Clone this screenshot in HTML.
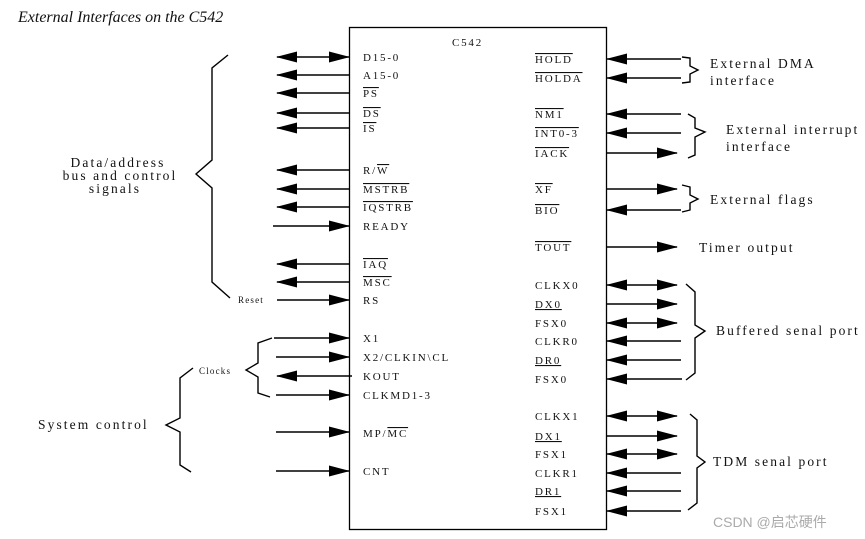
<!DOCTYPE html>
<html><head><meta charset="utf-8"><style>
html,body{margin:0;padding:0;background:#fff;}
svg{display:block;}
text{font-family:"Liberation Serif",serif;fill:#111;}
.p{font-size:11px;letter-spacing:1.8px;}
.l{font-size:13.5px;letter-spacing:2.1px;}
.o{text-decoration:overline;}
.u{text-decoration:underline;}
</style></head><body>
<svg width="865" height="539" viewBox="0 0 865 539" xmlns="http://www.w3.org/2000/svg">
<defs>
<marker id="a" markerUnits="userSpaceOnUse" markerWidth="22" markerHeight="12" refX="20" refY="5.5" orient="auto-start-reverse"><path d="M0,0 L21,5.5 L0,11 z" fill="#000"/></marker>
</defs>
<rect width="865" height="539" fill="#fff"/>
<text x="18" y="22" style="font-size:16px;font-style:italic">External Interfaces on the C542</text>
<rect x="349.5" y="27.5" width="257" height="502" fill="none" stroke="#000" stroke-width="1.3"/>
<text x="452" y="46" class="p">C542</text>
<g stroke="#000" stroke-width="1.4" fill="none">
<line x1="277" y1="57" x2="349" y2="57" marker-start="url(#a)" marker-end="url(#a)"/>
<line x1="349" y1="75" x2="277" y2="75" marker-end="url(#a)"/>
<line x1="349" y1="93" x2="277" y2="93" marker-end="url(#a)"/>
<line x1="349" y1="113" x2="277" y2="113" marker-end="url(#a)"/>
<line x1="349" y1="128" x2="277" y2="128" marker-end="url(#a)"/>
<line x1="349" y1="170" x2="277" y2="170" marker-end="url(#a)"/>
<line x1="349" y1="189" x2="277" y2="189" marker-end="url(#a)"/>
<line x1="349" y1="207" x2="277" y2="207" marker-end="url(#a)"/>
<line x1="273" y1="226" x2="349" y2="226" marker-end="url(#a)"/>
<line x1="349" y1="264" x2="277" y2="264" marker-end="url(#a)"/>
<line x1="349" y1="282" x2="277" y2="282" marker-end="url(#a)"/>
<line x1="277" y1="300" x2="349" y2="300" marker-end="url(#a)"/>
<line x1="274" y1="338" x2="349" y2="338" marker-end="url(#a)"/>
<line x1="276" y1="357" x2="349" y2="357" marker-end="url(#a)"/>
<line x1="352" y1="376" x2="277" y2="376" marker-end="url(#a)"/>
<line x1="276" y1="395" x2="349" y2="395" marker-end="url(#a)"/>
<line x1="276" y1="432" x2="349" y2="432" marker-end="url(#a)"/>
<line x1="276" y1="471" x2="349" y2="471" marker-end="url(#a)"/>
<line x1="681" y1="59" x2="607" y2="59" marker-end="url(#a)"/>
<line x1="681" y1="78" x2="607" y2="78" marker-end="url(#a)"/>
<line x1="681" y1="114" x2="607" y2="114" marker-end="url(#a)"/>
<line x1="681" y1="133" x2="607" y2="133" marker-end="url(#a)"/>
<line x1="606" y1="153" x2="677" y2="153" marker-end="url(#a)"/>
<line x1="606" y1="189" x2="677" y2="189" marker-end="url(#a)"/>
<line x1="681" y1="210" x2="607" y2="210" marker-end="url(#a)"/>
<line x1="606" y1="247" x2="677" y2="247" marker-end="url(#a)"/>
<line x1="607" y1="285" x2="677" y2="285" marker-start="url(#a)" marker-end="url(#a)"/>
<line x1="606" y1="304" x2="677" y2="304" marker-end="url(#a)"/>
<line x1="607" y1="323" x2="677" y2="323" marker-start="url(#a)" marker-end="url(#a)"/>
<line x1="681" y1="341" x2="607" y2="341" marker-end="url(#a)"/>
<line x1="681" y1="360" x2="607" y2="360" marker-end="url(#a)"/>
<line x1="682" y1="379" x2="607" y2="379" marker-end="url(#a)"/>
<line x1="607" y1="416" x2="677" y2="416" marker-start="url(#a)" marker-end="url(#a)"/>
<line x1="606" y1="436" x2="677" y2="436" marker-end="url(#a)"/>
<line x1="607" y1="454" x2="677" y2="454" marker-start="url(#a)" marker-end="url(#a)"/>
<line x1="681" y1="473" x2="607" y2="473" marker-end="url(#a)"/>
<line x1="681" y1="491" x2="607" y2="491" marker-end="url(#a)"/>
<line x1="681" y1="511" x2="607" y2="511" marker-end="url(#a)"/>
<polyline points="228,55 212,68 212,160 196,174 212,188 212,282 230,298"/>
<polyline points="193,368 180,378 180,418 166,425 180,432 180,465 191,472"/>
<polyline points="272,338 258,343 258,363 246,370 258,377 258,393 270,397"/>
<polyline points="682,57 690,58 690,66 698,70 690,74 690,82 682,83"/>
<polyline points="688,114 695,118 695,128 705,132 695,137 695,155 688,158"/>
<polyline points="682,185 690,187 690,195 698,199 690,203 690,210 682,212"/>
<polyline points="686,284 695,292 695,325 705,331 695,338 695,373 686,380"/>
<polyline points="690,414 697,420 697,456 705,462 697,468 697,503 688,510"/>
</g>
<g class="p">
<text x="363" y="61">D15-0</text>
<text x="363" y="79">A15-0</text>
<text x="363" y="97" class="o">PS</text>
<text x="363" y="117" class="o">DS</text>
<text x="363" y="132" class="o">IS</text>
<text x="363" y="174">R/<tspan class="o">W</tspan></text>
<text x="363" y="193" class="o">MSTRB</text>
<text x="363" y="211" class="o">IQSTRB</text>
<text x="363" y="230">READY</text>
<text x="363" y="268" class="o">IAQ</text>
<text x="363" y="286" class="o">MSC</text>
<text x="363" y="304">RS</text>
<text x="363" y="342">X1</text>
<text x="363" y="361">X2/CLKIN\CL</text>
<text x="363" y="380">KOUT</text>
<text x="363" y="399">CLKMD1-3</text>
<text x="363" y="437">MP/<tspan class="o">MC</tspan></text>
<text x="363" y="475">CNT</text>
<text x="535" y="63" class="o">HOLD</text>
<text x="535" y="82" class="o">HOLDA</text>
<text x="535" y="118" class="o">NM1</text>
<text x="535" y="137" class="o">INT0-3</text>
<text x="535" y="157" class="o">IACK</text>
<text x="535" y="193" class="o">XF</text>
<text x="535" y="214" class="o">BIO</text>
<text x="535" y="251" class="o">TOUT</text>
<text x="535" y="289">CLKX0</text>
<text x="535" y="308" class="u">DX0</text>
<text x="535" y="327">FSX0</text>
<text x="535" y="345">CLKR0</text>
<text x="535" y="364" class="u">DR0</text>
<text x="535" y="383">FSX0</text>
<text x="535" y="420">CLKX1</text>
<text x="535" y="440" class="u">DX1</text>
<text x="535" y="458">FSX1</text>
<text x="535" y="477">CLKR1</text>
<text x="535" y="495" class="u">DR1</text>
<text x="535" y="515">FSX1</text>
</g>
<g class="l">
<text x="118" y="167" text-anchor="middle">Data/address</text>
<text x="120" y="180" text-anchor="middle">bus and control</text>
<text x="115" y="193" text-anchor="middle">signals</text>
<text x="38" y="429">System control</text>
<text x="710" y="68">External DMA</text>
<text x="710" y="85">interface</text>
<text x="726" y="134">External interrupt</text>
<text x="726" y="151">interface</text>
<text x="710" y="204">External flags</text>
<text x="699" y="252">Timer output</text>
<text x="716" y="335">Buffered senal port</text>
<text x="713" y="466">TDM senal port</text>
</g>
<text x="199" y="374" style="font-size:9px;letter-spacing:1.2px">Clocks</text>
<text x="238" y="303" style="font-size:9px;letter-spacing:1.2px">Reset</text>
<text x="713" y="527" style="font-family:'Liberation Sans','Noto Sans CJK SC',sans-serif;font-size:14px;fill:#aaa">CSDN @启芯硬件</text>
</svg>
</body></html>
